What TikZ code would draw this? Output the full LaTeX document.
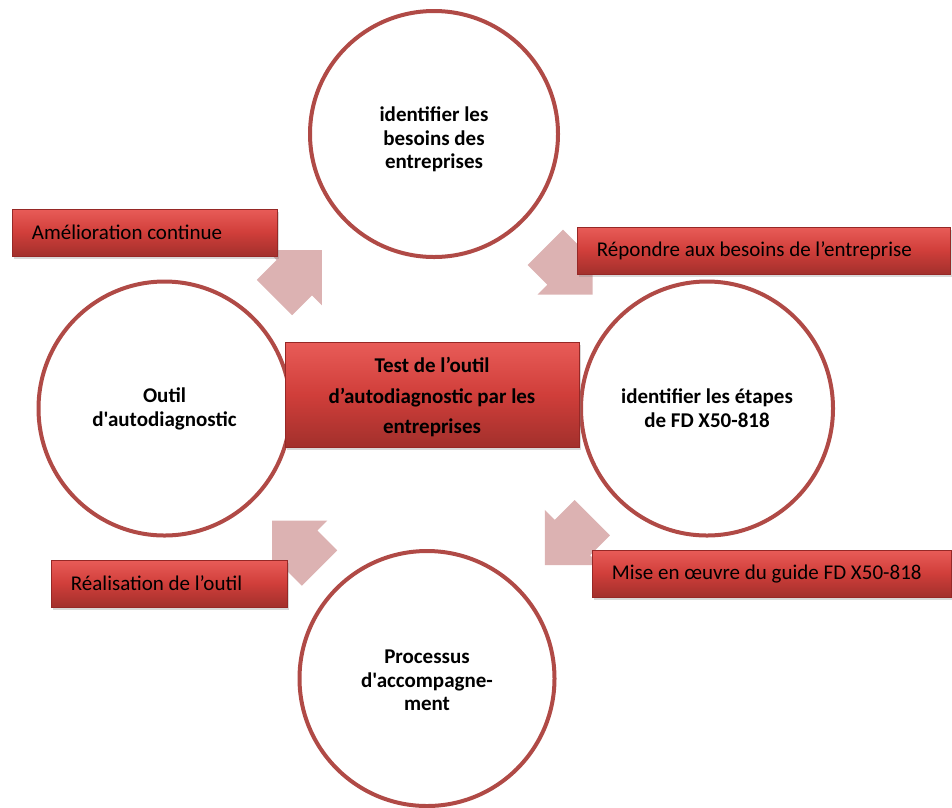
\documentclass[tikz,border=0pt]{standalone}
\usepackage{fontspec}
\setmainfont{Carlito}[Ligatures=TeXOff]
\usetikzlibrary{shapes.geometric,shadows}
\definecolor{circred}{RGB}{176,74,70}
\definecolor{arrowpink}{RGB}{220,178,178}
\definecolor{boxtop}{RGB}{232,92,88}
\definecolor{boxmid}{RGB}{208,62,58}
\definecolor{boxbot}{RGB}{162,48,44}
\definecolor{boxedge}{RGB}{150,40,38}
\tikzset{
  circ/.style={ellipse, draw=circred, line width=4pt, fill=white, inner sep=0pt,
    align=center, font=\fontsize{21}{24}\selectfont\bfseries},
  circtext/.style={inner sep=0pt, align=center, font=\fontsize{21}{23.5}\selectfont\bfseries},
  redbox/.style={rectangle, draw=boxedge, line width=0.6pt, top color=boxtop,
    bottom color=boxbot, middle color=boxmid,
    drop shadow={shadow xshift=1.5pt, shadow yshift=-3pt, opacity=0.3}, inner sep=0pt},
  labeltext/.style={anchor=west, font=\fontsize{21}{24}\selectfont, inner sep=0pt, text=black},
  blockarrow/.pic={\fill[arrowpink] (0,25)--(28,25)--(28,39)--(67,0)--(28,-39)--(28,-25)--(0,-25)--cycle;}
}
\begin{document}
\begin{tikzpicture}[x=1pt,y=-1pt]
\useasboundingbox (0,0) rectangle (952,807);
% circles
\node[circ, minimum width=248pt, minimum height=246pt] (ctop) at (434,134) {};
\node[circtext] (ttop) at (434,139.5) {identifier les\\besoins des\\entreprises};
\node[circ, minimum width=252pt, minimum height=254pt] (cleft) at (164.5,408.5) {Outil\\d'autodiagnostic};
\node[circ, minimum width=252pt, minimum height=254pt] (cright) at (707,408.5) {identifier les étapes\\de FD X50-818};
\node[circ, minimum width=255pt, minimum height=255pt] (cbot) at (427,678.5) {};
\node[circtext] (tbot) at (427,680.5) {Processus\\d'accompagne-\\ment};
% block arrows
\pic[rotate=45] (a1) at (274.5,297.5) {blockarrow};
\pic[rotate=-45] (a2) at (545.3,247.2) {blockarrow};
\pic[rotate=-135] (a4) at (592.3,517.7) {blockarrow};
\pic[rotate=135] (a3) at (319.5,568) {blockarrow};
% centre box
\node[redbox, minimum width=294pt, minimum height=105pt] (center) at (432,394.5) {};
\node[inner sep=0pt, align=center, font=\fontsize{21}{30}\selectfont\bfseries] (tcenter)
  at (432,397) {Test de l’outil\\d’autodiagnostic par les\\entreprises};
% label boxes
\node[redbox, minimum width=265pt, minimum height=47pt] (l1) at (144.5,232.5) {};
\node[labeltext] (t1) at ([xshift=20pt]l1.west) {Amélioration continue};
\node[redbox, minimum width=373pt, minimum height=47pt] (l2) at (763.5,250.5) {};
\node[labeltext] (t2) at ([xshift=20pt]l2.west) {Répondre aux besoins de l’entreprise};
\node[redbox, minimum width=359pt, minimum height=47pt] (l3) at (771.5,573.5) {};
\node[labeltext] (t3) at ([xshift=20pt]l3.west) {Mise en œuvre du guide FD X50-818};
\node[redbox, minimum width=236pt, minimum height=47pt] (l4) at (169,583.5) {};
\node[labeltext] (t4) at ([xshift=20pt]l4.west) {Réalisation de l’outil};
\end{tikzpicture}
\end{document}
